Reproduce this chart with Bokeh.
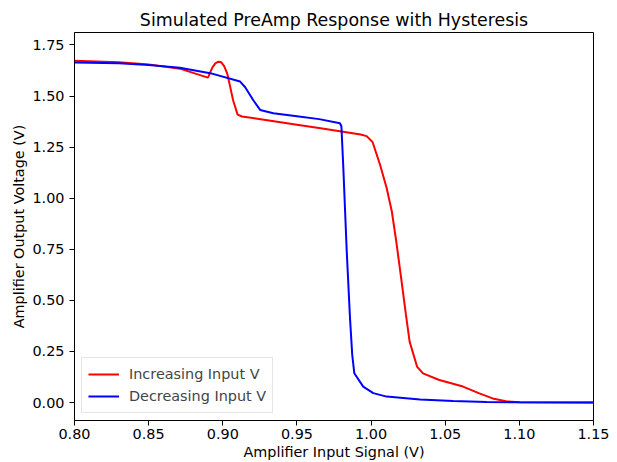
from bokeh.plotting import figure
from bokeh.models import FixedTicker, NumeralTickFormatter, Range1d, Legend, LegendItem
from bokeh.embed import file_html
from bokeh.resources import INLINE

# Increasing input sweep (red)
inc_x = [0.800, 0.830, 0.850, 0.871, 0.890, 0.893, 0.895, 0.897, 0.899, 0.901, 0.903, 0.905, 0.907,
         0.910, 0.913, 0.930, 0.950, 0.966, 0.993, 0.997, 1.001, 1.006, 1.0105, 1.014, 1.017,
         1.0206, 1.0235, 1.026, 1.031, 1.035, 1.046, 1.062, 1.073, 1.082, 1.091, 1.100, 1.150]
inc_y = [1.673, 1.665, 1.655, 1.634, 1.590, 1.640, 1.660, 1.668, 1.665, 1.645, 1.610, 1.545, 1.478,
         1.409, 1.400, 1.382, 1.360, 1.342, 1.312, 1.304, 1.275, 1.165, 1.050, 0.935, 0.788,
         0.592, 0.430, 0.298, 0.176, 0.143, 0.110, 0.078, 0.045, 0.020, 0.006, 0.001, 0.000]

# Decreasing input sweep (blue)
dec_x = [0.800, 0.830, 0.850, 0.871, 0.8915, 0.9117, 0.9151, 0.9207, 0.9252, 0.9341, 0.950, 0.965,
         0.979, 0.980, 0.9813, 0.9836, 0.9858, 0.9873, 0.9887, 0.9947, 1.0015, 1.0105, 1.033,
         1.0553, 1.078, 1.100, 1.150]
dec_y = [1.664, 1.660, 1.652, 1.638, 1.612, 1.571, 1.543, 1.478, 1.432, 1.416, 1.401, 1.387,
         1.367, 1.352, 1.147, 0.738, 0.412, 0.233, 0.143, 0.078, 0.046, 0.029, 0.015,
         0.008, 0.003, 0.001, 0.000]

x_ticks = [0.80, 0.85, 0.90, 0.95, 1.00, 1.05, 1.10, 1.15]
y_ticks = [0.00, 0.25, 0.50, 0.75, 1.00, 1.25, 1.50, 1.75]

FONT = "DejaVu Sans"
FS = "14.4px"

p = figure(frame_width=519, frame_height=388, output_backend="svg", toolbar_location=None,
           x_range=Range1d(0.80, 1.15), y_range=Range1d(-0.088, 1.811),
           min_border_left=74, min_border_right=24, min_border_top=32, min_border_bottom=42,
           title="Simulated PreAmp Response with Hysteresis")
p.background_fill_color = "white"
p.border_fill_color = "white"
p.grid.visible = False
p.outline_line_color = "black"
p.outline_line_width = 1

p.title.align = "center"
p.title.text_font = FONT
p.title.text_font_style = "normal"
p.title.text_font_size = "17.4px"
p.title.text_color = "black"
p.title.standoff = 6

r1 = p.line(inc_x, inc_y, line_color="red", line_width=2)
r2 = p.line(dec_x, dec_y, line_color="blue", line_width=2)

for ax, ticks in ((p.xaxis[0], x_ticks), (p.yaxis[0], y_ticks)):
    ax.ticker = FixedTicker(ticks=ticks)
    ax.formatter = NumeralTickFormatter(format="0.00")
    ax.major_tick_out = 5
    ax.major_tick_in = 0
    ax.minor_tick_out = 0
    ax.minor_tick_in = 0
    ax.axis_line_color = "black"
    ax.major_tick_line_color = "black"
    ax.major_label_text_font = FONT
    ax.major_label_text_font_size = FS
    ax.major_label_text_color = "black"
    ax.axis_label_text_font = FONT
    ax.axis_label_text_font_size = FS
    ax.axis_label_text_font_style = "normal"
    ax.axis_label_text_color = "black"

p.xaxis[0].axis_label = "Amplifier Input Signal (V)"
p.yaxis[0].axis_label = "Amplifier Output Voltage (V)"
p.xaxis[0].major_label_standoff = 3
p.xaxis[0].axis_label_standoff = 2
p.yaxis[0].major_label_standoff = 5
p.yaxis[0].axis_label_standoff = 2

legend = Legend(items=[LegendItem(label="Increasing Input V", renderers=[r1]),
                       LegendItem(label="Decreasing Input V", renderers=[r2])],
                location="bottom_left", margin=7, padding=6, spacing=2,
                glyph_width=31, glyph_height=20, label_height=20, label_standoff=10,
                label_text_font=FONT, label_text_font_size=FS,
                border_line_color="#cccccc", border_line_width=1,
                background_fill_color="white", background_fill_alpha=0.8)
p.add_layout(legend)

open("out.html", "w").write(file_html(p, INLINE))
